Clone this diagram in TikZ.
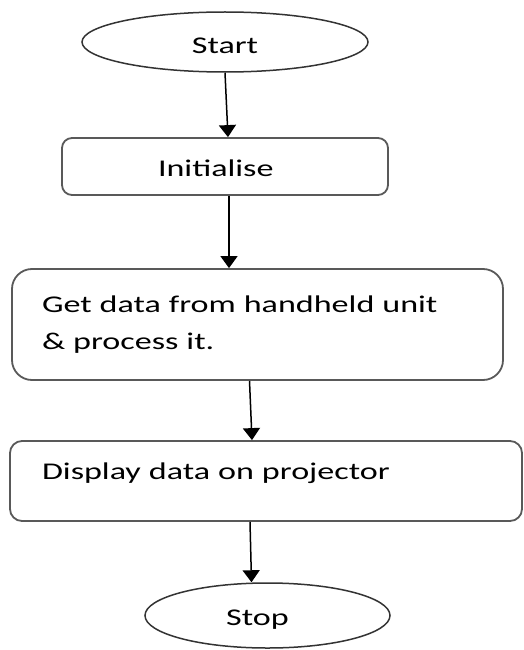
\documentclass[tikz,border=0pt]{standalone}
\usepackage{fontspec}
\setmainfont{Carlito}[FakeStretch=1.42]
\usetikzlibrary{shapes.geometric,arrows.meta}
\begin{document}
\begin{tikzpicture}[x=1pt,y=-1pt,
  every node/.style={font=\fontsize{24}{37}\selectfont},
  term/.style={ellipse,draw=black!80,line width=1.5pt,inner sep=0pt},
  proc/.style={rectangle,draw=black!65,line width=1.8pt,inner sep=0pt,align=left},
  flow/.style={-{Triangle[length=12pt,width=17pt]},line width=1.5pt,black},
]
\useasboundingbox (0,0) rectangle (523,650);
\node[term,minimum width=286pt,minimum height=60pt,text height=23pt,text depth=0pt] (start) at (225,42) {Start};
\node[proc,rounded corners=10pt,minimum height=57pt,text width=134pt,inner xsep=96pt,text height=20pt,text depth=0pt] (init) at (225,166.5) {Initialise};
\node[proc,rounded corners=20pt,minimum height=111pt,text width=431pt,inner xsep=30pt] (get) at (257.5,324.5) {Get data from handheld unit\\\& process it.};
\node[proc,rounded corners=12pt,minimum height=80pt,text width=448pt,inner xsep=32pt,text height=18pt,text depth=22pt] (disp) at (266,481) {Display data on projector};
\node[term,minimum width=245pt,minimum height=65pt,label={[xshift=-10pt,yshift=-4pt]center:Stop}] (stop) at (267.5,615.5) {};
\draw[flow] (start.south) -- ([xshift=3pt]init.north);
\draw[flow] ([xshift=4pt]init.south) -- ([xshift=4pt]init.south |- get.north);
\draw[flow] ([xshift=-8pt]get.south) -- ([xshift=-14pt]disp.north);
\draw[flow] ([xshift=-16pt]disp.south) -- ([xshift=-16pt]stop.north);
\end{tikzpicture}
\end{document}
